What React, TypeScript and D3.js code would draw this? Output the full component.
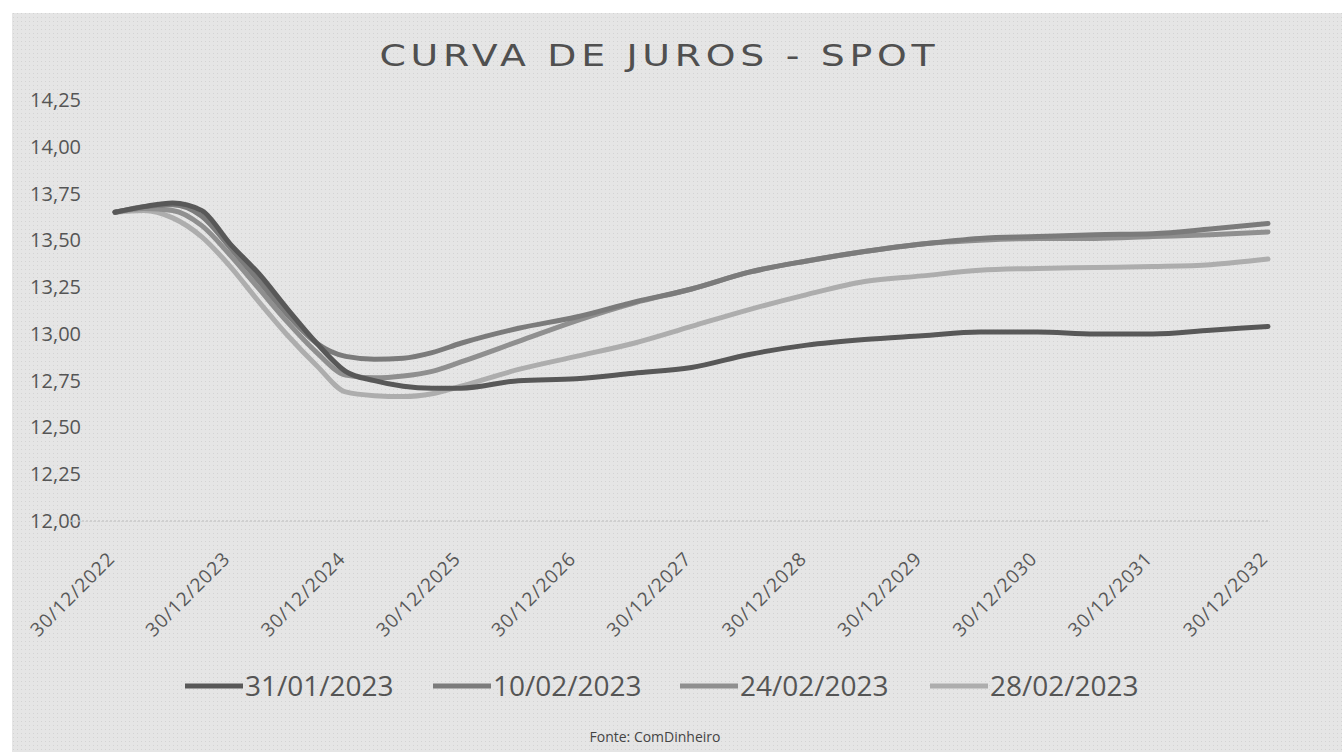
import React from 'react';
import * as d3 from 'd3';

// prazo em anos a partir de 30/12/2022
const tenors = [0, 0.25, 0.5, 0.75, 1, 1.25, 1.5, 1.75, 2, 2.25, 2.5, 2.75, 3, 3.5, 4, 4.5, 5, 5.5, 6, 6.5, 7, 7.5, 8, 8.5, 9, 9.5, 10];

const s3101 = [13.65, 13.68, 13.70, 13.66, 13.48, 13.32, 13.13, 12.95, 12.80, 12.75, 12.72, 12.71, 12.71, 12.75, 12.76, 12.79, 12.82, 12.89, 12.94, 12.97, 12.99, 13.01, 13.01, 13.00, 13.00, 13.02, 13.04];
const s1002 = [13.65, 13.68, 13.69, 13.63, 13.46, 13.28, 13.10, 12.95, 12.88, 12.865, 12.87, 12.90, 12.95, 13.03, 13.09, 13.17, 13.24, 13.33, 13.39, 13.44, 13.48, 13.51, 13.52, 13.53, 13.535, 13.56, 13.59];
const s2402 = [13.65, 13.67, 13.66, 13.58, 13.42, 13.24, 13.06, 12.90, 12.78, 12.765, 12.775, 12.80, 12.85, 12.96, 13.07, 13.165, 13.24, 13.33, 13.39, 13.44, 13.48, 13.50, 13.51, 13.51, 13.52, 13.53, 13.545];
const s2802 = [13.65, 13.66, 13.62, 13.52, 13.36, 13.17, 12.99, 12.83, 12.69, 12.67, 12.665, 12.68, 12.72, 12.81, 12.88, 12.95, 13.04, 13.13, 13.21, 13.28, 13.31, 13.34, 13.35, 13.355, 13.36, 13.37, 13.40];

const seriesNames = ['31/01/2023', '10/02/2023', '24/02/2023', '28/02/2023'];
const seriesValues = [s3101, s1002, s2402, s2802];
const seriesColors = ['#585858', '#7b7b7b', '#8f8f8f', '#adadad'];

const xTickYears = [0, 1, 2, 3, 4, 5, 6, 7, 8, 9, 10];
const xTickLabels = ['30/12/2022', '30/12/2023', '30/12/2024', '30/12/2025', '30/12/2026', '30/12/2027', '30/12/2028', '30/12/2029', '30/12/2030', '30/12/2031', '30/12/2032'];
const yTicks = [12, 12.25, 12.5, 12.75, 13, 13.25, 13.5, 13.75, 14, 14.25];

const W = 1342, H = 752;

export default function App() {
  const x = d3.scaleLinear().domain([0, 10]).range([115, 1268]);
  const y = d3.scaleLinear().domain([12, 14.25]).range([521, 100]);
  const fmt = (v: number) => v.toFixed(2).replace('.', ',');

  const line = d3.line<number>()
    .x((_, i) => x(tenors[i]))
    .y(d => y(d))
    .curve(d3.curveMonotoneX);

  const legendX = [185, 433, 680, 930];

  return (
    <div style={{ position: 'absolute', left: 0, top: 0 }}>
      <svg width={W} height={H} style={{ display: 'block' }}>
        <defs>
          <pattern id="dots" width="4" height="4" patternUnits="userSpaceOnUse">
            <rect width="4" height="4" fill="#e5e5e5" />
            <rect x="1" y="1" width="1" height="1" fill="#d3d3d3" />
          </pattern>
        </defs>
        <rect width={W} height={H} fill="#ffffff" />
        <rect x={12} y={13} width={W - 12} height={H - 13} fill="url(#dots)" />

        <g transform="translate(657,66) scale(1.22,1)">
          <text x={0} y={0} textAnchor="middle" fontFamily="DejaVu Sans"
            fontSize={31} fill="#505050" textLength={455} lengthAdjust="spacing">CURVA DE JUROS - SPOT</text>
        </g>

        {yTicks.map(t => (
          <text key={t} x={81} y={y(t)} dy="0.35em" textAnchor="end" fontFamily="Open Sans"
            fontSize={20} fill="#555">{fmt(t)}</text>
        ))}

        <line x1={70} x2={1270} y1={y(12)} y2={y(12)} stroke="#c8c8c8" strokeWidth={1.5} strokeDasharray="2 2" />

        {xTickYears.map((t, i) => (
          <text key={t} transform={`translate(${x(t) + 1},${560}) rotate(-45)`} textAnchor="end"
            fontFamily="Open Sans" fontSize={19} letterSpacing={0.9} fill="#585858">{xTickLabels[i]}</text>
        ))}

        {seriesValues.map((vals, i) => (
          <path key={seriesNames[i]} d={line(vals) || ''} fill="none" stroke={seriesColors[i]}
            strokeWidth={5} strokeLinejoin="round" strokeLinecap="round" />
        )).reverse()}

        {seriesNames.map((n, i) => (
          <g key={n} transform={`translate(${legendX[i]},686)`}>
            <line x1={0} x2={58} y1={0} y2={0} stroke={seriesColors[i]} strokeWidth={5} />
            <text x={60} y={0} dy="0.36em" fontFamily="Open Sans" fontSize={28} fill="#555">{n}</text>
          </g>
        ))}

        <text x={655} y={742} textAnchor="middle" fontFamily="Open Sans" fontSize={14} fill="#444">Fonte: ComDinheiro</text>
      </svg>
    </div>
  );
}
